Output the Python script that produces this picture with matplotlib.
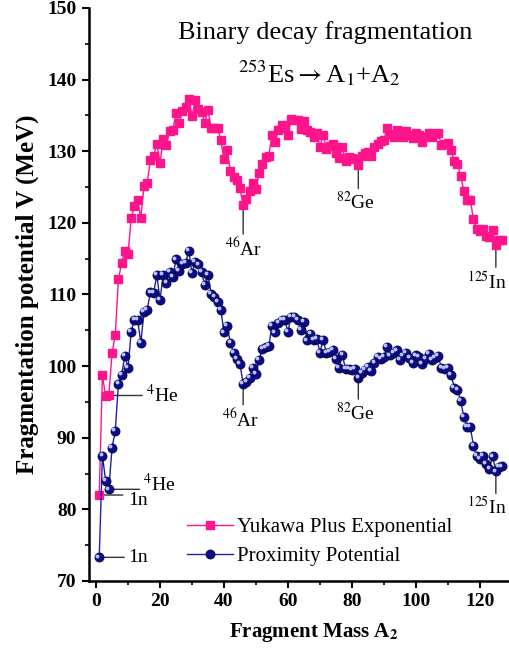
import numpy as np
import matplotlib
matplotlib.use("Agg")
import matplotlib.pyplot as plt
from matplotlib.transforms import offset_copy

plt.rcParams["font.family"] = ["Liberation Serif", "DejaVu Serif"]
plt.rcParams["mathtext.fontset"] = "stix"

# fragment mass A2 = 1..127
mass = np.arange(1, 128)

# Yukawa plus exponential potential (MeV)
v_yukawa = [
    82.0, 98.7, 95.8, 95.9, 101.8, 104.3, 112.1, 114.4, 116.1, 115.6,
    120.7, 122.3, 123.2, 120.7, 125.2, 125.5, 128.8, 129.3, 131.0, 128.4,
    131.7, 130.9, 132.8, 133.0, 135.3, 133.9, 135.6, 136.2, 137.3, 134.9,
    137.2, 135.9, 135.5, 134.0, 135.7, 133.2, 133.2, 133.3, 131.5, 128.9,
    130.2, 127.2, 126.4, 126.0, 124.8, 122.5, 123.3, 124.4, 125.5, 124.7,
    127.0, 128.2, 129.2, 129.4, 132.2, 131.3, 133.0, 133.7, 133.2, 132.2,
    134.5, 134.4, 134.3, 133.1, 134.2, 133.0, 132.7, 132.0, 132.5, 130.6,
    132.3, 130.3, 130.8, 131.0, 129.7, 129.0, 130.6, 128.6, 129.2, 129.0,
    128.9, 128.1, 129.4, 129.8, 129.9, 129.3, 130.6, 131.0, 131.4, 131.5,
    133.3, 132.4, 132.0, 133.0, 132.4, 132.0, 132.8, 132.3, 131.8, 132.6,
    132.3, 131.3, 132.0, 132.6, 132.0, 132.4, 132.5, 130.9, 131.0, 131.1,
    130.2, 128.6, 128.2, 126.5, 124.5, 123.2, 123.2, 120.5, 119.1, 118.8,
    119.1, 118.1, 118.0, 119.0, 116.9, 117.6, 117.6,
]

# proximity potential (MeV)
v_proximity = [
    73.3, 87.5, 84.0, 82.8, 88.6, 90.9, 97.5, 98.8, 101.4, 99.8,
    104.8, 106.5, 106.5, 103.2, 107.6, 107.9, 110.3, 110.2, 112.7, 109.3,
    112.7, 111.6, 113.2, 112.5, 114.9, 113.3, 114.3, 114.4, 116.1, 113.0,
    114.6, 114.2, 113.1, 111.3, 112.7, 110.1, 109.7, 109.0, 107.9, 104.7,
    105.6, 103.2, 101.9, 101.0, 100.3, 97.5, 97.8, 98.4, 99.8, 98.9,
    100.9, 102.4, 102.6, 102.8, 105.6, 104.7, 106.0, 106.4, 106.5, 104.8,
    106.9, 106.9, 106.5, 105.0, 106.2, 103.6, 104.5, 103.7, 103.8, 101.9,
    103.7, 101.8, 102.0, 102.3, 101.0, 99.7, 101.6, 99.6, 99.6, 99.5,
    99.6, 98.3, 99.0, 99.5, 99.9, 99.3, 100.4, 101.3, 101.0, 101.3,
    102.7, 101.5, 101.8, 102.2, 100.9, 101.5, 101.8, 101.2, 100.5, 101.5,
    101.3, 100.3, 101.0, 101.7, 100.9, 101.2, 101.4, 99.7, 99.6, 99.7,
    98.8, 97.0, 96.7, 95.1, 92.9, 91.5, 91.5, 88.9, 87.5, 87.0,
    87.5, 86.4, 85.7, 87.4, 85.3, 85.9, 86.0,
]

# labelled fragments: mass, label, series, leader line end, text offset (points)
fragments = [
    (1, "1n", "yukawa", (17, 0), (21, -3.6), "left"),
    (4, r"$^{4}$He", "yukawa", (24, 0), (27, 0), "left"),
    (46, r"$^{46}$Ar", "yukawa", (0, -21), (0, -23), "center"),
    (82, r"$^{82}$Ge", "yukawa", (0, -17), (-2, -19), "center"),
    (125, r"$^{125}$In", "yukawa", (0, -16), (8, -19), "right"),
    (1, "1n", "proximity", (18, 0), (21, 0), "left"),
    (4, r"$^{4}$He", "proximity", (22, 0), (24.5, 3.6), "left"),
    (46, r"$^{46}$Ar", "proximity", (0, -15), (-2, -17), "center"),
    (82, r"$^{82}$Ge", "proximity", (0, -15), (-2, -17), "center"),
    (125, r"$^{125}$In", "proximity", (0, -16), (8, -18), "right"),
]

pink = "#ff148c"
navy = "#0b0b85"

fig = plt.figure(figsize=(5.1, 6.55), dpi=100)
ax = fig.add_axes([0.1745, 0.113, 0.8216, 0.8748])

ax.plot(mass, v_yukawa, "-s", color=pink, lw=1, ms=6, mec=pink,
        label="Yukawa Plus Exponential", zorder=3)
ax.plot(mass, v_proximity, "-o", color="#2020a0", lw=1, ms=6.5,
        mfc=navy, mec="#05054a", mew=0.6,
        label="Proximity Potential", zorder=3)
# shiny highlight on the balls
shine = offset_copy(ax.transData, fig=fig, x=-1.3, y=1.3, units="points")
ax.plot(mass, v_proximity, "o", ls="none", ms=1.8, color="#b8c0ff",
        transform=shine, zorder=4)

series = {"yukawa": v_yukawa, "proximity": v_proximity}
for a, lab, s, line_end, txt_off, ha in fragments:
    v = series[s][a - 1]
    ax.annotate("", xy=(a, v), xytext=line_end, textcoords="offset points",
                arrowprops=dict(arrowstyle="-", color="#333333", lw=1,
                                shrinkA=0, shrinkB=0), zorder=2)
    va = "center" if line_end[1] == 0 else "top"
    ax.annotate(lab, xy=(a, v), xytext=txt_off, textcoords="offset points",
                fontsize=14, va=va, ha=ha)

ax.text(0.563, 0.957, "Binary decay fragmentation", transform=ax.transAxes,
        fontsize=19, ha="center", va="center")
ax.text(0.55, 0.887, r"$^{253}$Es$\rightarrow$A$_1$+A$_2$",
        transform=ax.transAxes, fontsize=19, ha="center", va="center")

ax.set_xlim(-2.2, 128.8)
ax.set_ylim(70, 150)
ax.set_xticks(np.arange(0, 121, 20))
ax.set_xticks(np.arange(10, 130, 20), minor=True)
ax.set_yticks(np.arange(70, 151, 10))
ax.set_yticks(np.arange(75, 150, 10), minor=True)
ax.tick_params(which="major", direction="out", length=5, width=1.5,
               labelsize=14, pad=4)
ax.tick_params(which="minor", direction="out", length=3, width=1.2)
for lbl in ax.get_xticklabels() + ax.get_yticklabels():
    lbl.set_fontweight("bold")

for side in ["top", "right"]:
    ax.spines[side].set_visible(False)
for side in ["left", "bottom"]:
    ax.spines[side].set_linewidth(1.8)

ax.set_xlabel(r"Fragment Mass A$_\mathbf{2}$", fontsize=15, fontweight="bold")
ax.xaxis.set_label_coords(0.535, -0.07)
ax.set_ylabel("Fragmentation potential V (MeV)", fontsize=18,
              fontweight="bold", labelpad=6)

ax.legend(loc="lower left", bbox_to_anchor=(0.2, 0.0), frameon=False,
          fontsize=15, handlelength=2.2, handletextpad=0.2,
          labelspacing=0.45, borderpad=0.2)

fig.savefig("out.png", dpi=100)
